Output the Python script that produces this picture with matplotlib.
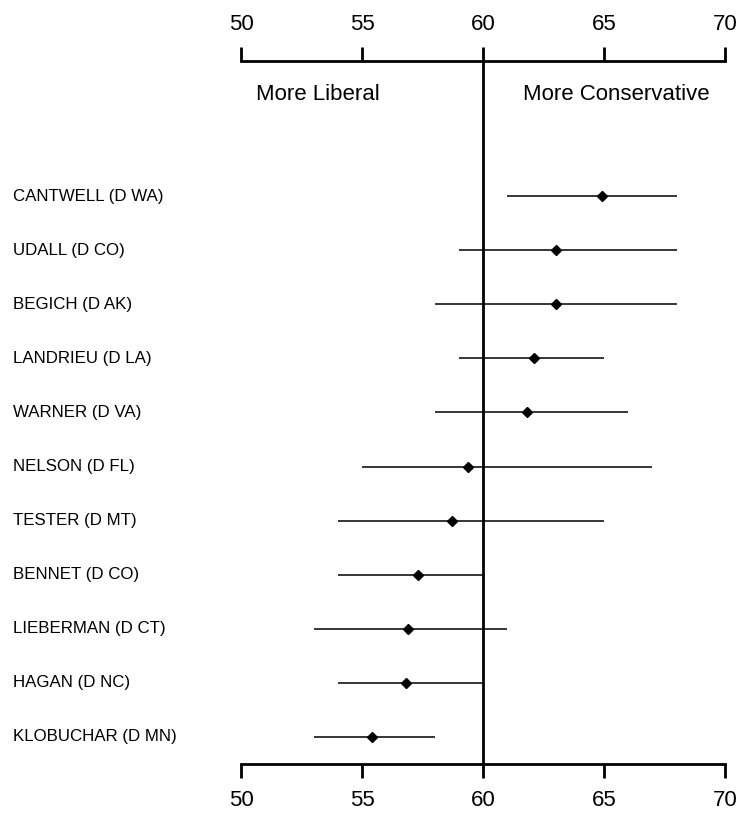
import matplotlib
matplotlib.use("Agg")
import matplotlib.pyplot as plt
import matplotlib.transforms as mtransforms

plt.rcParams["font.family"] = ["Liberation Sans", "DejaVu Sans"]

# Dados (de cima para baixo)
senators = ["CANTWELL (D WA)", "UDALL (D CO)", "BEGICH (D AK)", "LANDRIEU (D LA)",
            "WARNER (D VA)", "NELSON (D FL)", "TESTER (D MT)", "BENNET (D CO)",
            "LIEBERMAN (D CT)", "HAGAN (D NC)", "KLOBUCHAR (D MN)"]
scores = [64.9, 63.0, 63.0, 62.1, 61.8, 59.4, 58.7, 57.3, 56.9, 56.8, 55.4]
lower = [61, 59, 58, 59, 58, 55, 54, 54, 53, 54, 53]
upper = [68, 68, 68, 65, 66, 67, 65, 60, 61, 60, 58]
ticks = [50, 55, 60, 65, 70]

W, H = 739, 818
fig = plt.figure(figsize=(W / 100, H / 100), dpi=100)
ax = fig.add_axes([241 / W, 1 - 764 / H, (725 - 241) / W, (764 - 61) / H])

n = len(senators)
ypos = [n - i for i in range(n)]

ax.hlines(ypos, lower, upper, color="black", lw=1.1)
ax.plot(scores, ypos, "D", color="black", ms=5.6, zorder=3)
ax.axvline(60, color="black", lw=2)

ax.set_xlim(50, 70)
ax.set_ylim(0.5, n + 2.5)

for side in ["left", "right"]:
    ax.spines[side].set_visible(False)
for side in ["top", "bottom"]:
    ax.spines[side].set_linewidth(2)

ax.set_yticks([])
ax.set_xticks(ticks)
ax.tick_params(axis="x", which="both", top=True, bottom=True, labeltop=True, labelbottom=True,
               direction="out", length=10, width=2, pad=9, labelsize=16)

# nomes na esquerda
trans = mtransforms.blended_transform_factory(fig.transFigure, ax.transData)
for name, y in zip(senators, ypos):
    ax.text(13 / W, y, name, transform=trans, ha="left", va="center", fontsize=12.2)

ax.text(53.16, n + 1.88, "More Liberal", ha="center", va="center", fontsize=16)
ax.text(65.52, n + 1.88, "More Conservative", ha="center", va="center", fontsize=16)

plt.savefig("out.png", dpi=100)
